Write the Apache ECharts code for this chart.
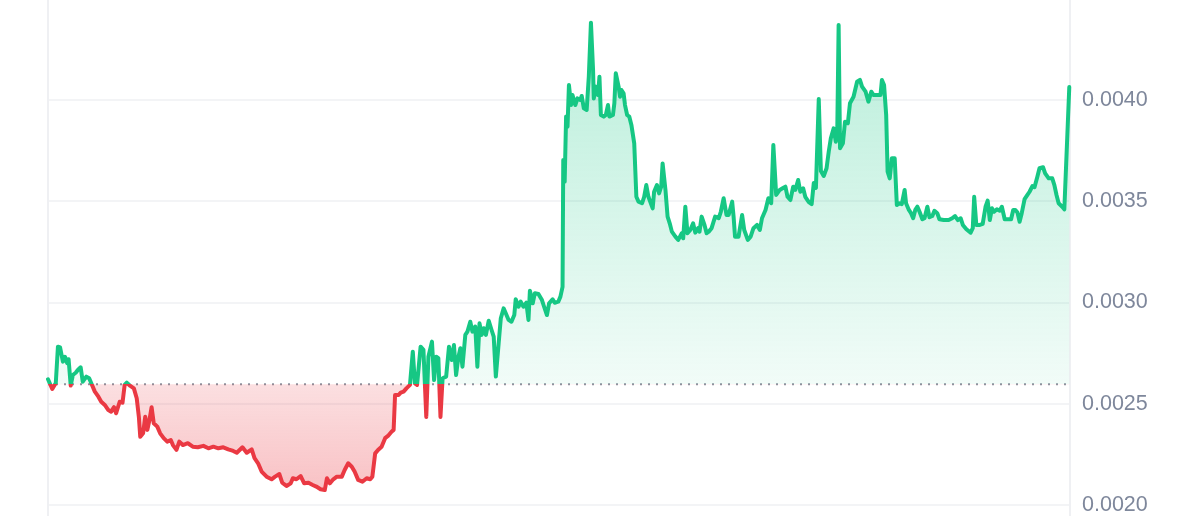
<!DOCTYPE html>
<html>
<head>
<meta charset="utf-8">
<title>Price chart</title>
<script src="https://cdn.jsdelivr.net/npm/echarts@6.0.0/dist/echarts.min.js"></script>
<style>
    html, body { margin: 0; padding: 0; background: #fff; }
    #chart { width: 1200px; height: 516px; }
</style>
</head>
<body>
<div id="chart"></div>
<script>
// minutes since the start of the 24h window
var minutes = [
    0, 6, 11, 14, 17, 21, 24, 27, 29, 32,
    35, 39, 42, 46, 49, 54, 58, 61, 66, 71,
    75, 80, 85, 89, 93, 96, 101, 105, 108, 111,
    116, 121, 125, 128, 130, 134, 137, 140, 143, 146,
    149, 154, 158, 163, 168, 173, 176, 181, 185, 190,
    197, 204, 211, 219, 226, 233, 240, 247, 254, 261,
    266, 274, 280, 287, 291, 296, 301, 308, 315, 320,
    326, 330, 336, 342, 345, 350, 356, 361, 367, 373,
    378, 384, 390, 393, 397, 402, 407, 414, 418, 423,
    428, 432, 437, 443, 449, 454, 457, 461, 465, 470,
    475, 479, 484, 487, 489, 494, 497, 501, 505, 510,
    514, 517, 520, 525, 529, 533, 536, 541, 544, 547,
    550, 553, 556, 561, 565, 569, 572, 575, 578, 581,
    584, 588, 591, 595, 598, 602, 605, 608, 611, 614,
    617, 621, 625, 628, 631, 635, 638, 642, 645, 649,
    653, 657, 659, 663, 666, 670, 674, 677, 679, 683,
    686, 691, 696, 699, 703, 706, 711, 714, 719, 722,
    725, 726, 728, 730, 732, 734, 737, 739, 743, 746,
    750, 752, 755, 759, 762, 765, 768, 769, 772, 775,
    777, 779, 783, 786, 789, 791, 796, 798, 800, 804,
    806, 808, 811, 813, 816, 819, 822, 824, 826, 829,
    832, 837, 840, 843, 846, 848, 852, 854, 858, 861,
    864, 866, 870, 873, 876, 879, 884, 888, 893, 895,
    898, 901, 905, 909, 912, 916, 918, 921, 925, 928,
    931, 935, 940, 945, 948, 952, 956, 959, 964, 966,
    968, 973, 978, 981, 986, 990, 994, 999, 1003, 1006,
    1011, 1015, 1019, 1022, 1026, 1031, 1035, 1039, 1042, 1046,
    1050, 1053, 1057, 1060, 1064, 1067, 1072, 1076, 1079, 1082,
    1086, 1089, 1093, 1097, 1100, 1103, 1107, 1110, 1112, 1114,
    1116, 1120, 1123, 1127, 1130, 1135, 1140, 1144, 1147, 1152,
    1156, 1160, 1163, 1168, 1173, 1175, 1178, 1181, 1183, 1186,
    1189, 1193, 1196, 1200, 1203, 1207, 1209, 1213, 1216, 1219,
    1222, 1225, 1228, 1232, 1235, 1239, 1242, 1246, 1249, 1253,
    1256, 1262, 1269, 1274, 1278, 1282, 1286, 1289, 1294, 1300,
    1303, 1305, 1308, 1313, 1317, 1321, 1324, 1327, 1330, 1333,
    1337, 1341, 1344, 1348, 1352, 1357, 1360, 1363, 1366, 1369,
    1372, 1376, 1380, 1383, 1387, 1390, 1394, 1397, 1402, 1405,
    1410, 1415, 1418, 1421, 1424, 1429, 1432, 1439
];

var prices = [
    0.002621, 0.002573, 0.002603, 0.002782, 0.002778, 0.002708, 0.002732, 0.002700, 0.002720, 0.002590,
    0.002642, 0.002653, 0.002667, 0.002680, 0.002609, 0.002634, 0.002626, 0.002601, 0.002560, 0.002535,
    0.002510, 0.002494, 0.002469, 0.002461, 0.002483, 0.002453, 0.002510, 0.002505, 0.002593, 0.002604,
    0.002588, 0.002576, 0.002527, 0.002436, 0.002337, 0.002354, 0.002436, 0.002371, 0.002420, 0.002483,
    0.002404, 0.002387, 0.002354, 0.002330, 0.002313, 0.002321, 0.002296, 0.002272, 0.002313, 0.002296,
    0.002305, 0.002288, 0.002285, 0.002292, 0.002280, 0.002288, 0.002280, 0.002285, 0.002275, 0.002267,
    0.002258, 0.002285, 0.002258, 0.002275, 0.002231, 0.002206, 0.002165, 0.002140, 0.002127, 0.002140,
    0.002153, 0.002110, 0.002094, 0.002107, 0.002132, 0.002127, 0.002143, 0.002107, 0.002110, 0.002099,
    0.002091, 0.002078, 0.002074, 0.002132, 0.002107, 0.002127, 0.002140, 0.002140, 0.002173, 0.002206,
    0.002189, 0.002165, 0.002124, 0.002115, 0.002132, 0.002127, 0.002140, 0.002255, 0.002272, 0.002288,
    0.002330, 0.002341, 0.002362, 0.002371, 0.002543, 0.002543, 0.002555, 0.002560, 0.002576, 0.002593,
    0.002757, 0.002601, 0.002593, 0.002782, 0.002766, 0.002435, 0.002732, 0.002807, 0.002617, 0.002732,
    0.002725, 0.002435, 0.002626, 0.002634, 0.002782, 0.002716, 0.002790, 0.002642, 0.002725, 0.002774,
    0.002683, 0.002840, 0.002856, 0.002905, 0.002856, 0.002881, 0.002683, 0.002897, 0.002840, 0.002873,
    0.002840, 0.002910, 0.002864, 0.002831, 0.002634, 0.002799, 0.002922, 0.002971, 0.002947, 0.002914,
    0.002905, 0.002938, 0.003016, 0.002979, 0.003004, 0.002979, 0.002999, 0.002914, 0.003058, 0.002996,
    0.003046, 0.003042, 0.003012, 0.002979, 0.002938, 0.002996, 0.003016, 0.002999, 0.003004, 0.003029,
    0.003077, 0.003704, 0.003597, 0.003918, 0.003868, 0.004074, 0.003975, 0.004025, 0.003975, 0.004008,
    0.004000, 0.004020, 0.003959, 0.003951, 0.004115, 0.004382, 0.004148, 0.004008, 0.004066, 0.004025,
    0.004115, 0.003926, 0.003918, 0.003926, 0.003975, 0.003918, 0.003926, 0.003984, 0.004132, 0.004066,
    0.004016, 0.004049, 0.004033, 0.003975, 0.003926, 0.003918, 0.003877, 0.003868, 0.003786, 0.003522,
    0.003498, 0.003490, 0.003522, 0.003580, 0.003522, 0.003531, 0.003465, 0.003547, 0.003580, 0.003539,
    0.003572, 0.003687, 0.003556, 0.003424, 0.003391, 0.003350, 0.003325, 0.003309, 0.003342, 0.003317,
    0.003473, 0.003342, 0.003358, 0.003391, 0.003345, 0.003367, 0.003350, 0.003424, 0.003383, 0.003342,
    0.003350, 0.003367, 0.003424, 0.003416, 0.003448, 0.003515, 0.003432, 0.003432, 0.003498, 0.003424,
    0.003325, 0.003325, 0.003432, 0.003358, 0.003309, 0.003325, 0.003367, 0.003383, 0.003358, 0.003416,
    0.003457, 0.003515, 0.003490, 0.003778, 0.003531, 0.003556, 0.003564, 0.003572, 0.003522, 0.003506,
    0.003572, 0.003556, 0.003605, 0.003547, 0.003564, 0.003522, 0.003496, 0.003486, 0.003590, 0.003566,
    0.004005, 0.003649, 0.003625, 0.003663, 0.003743, 0.003811, 0.003860, 0.003794, 0.003827, 0.004370,
    0.003762, 0.003786, 0.003893, 0.003885, 0.003984, 0.004016, 0.004090, 0.004099, 0.004066, 0.004041,
    0.003992, 0.004041, 0.004025, 0.004025, 0.004025, 0.004099, 0.004074, 0.003926, 0.003646, 0.003613,
    0.003712, 0.003712, 0.003482, 0.003490, 0.003486, 0.003556, 0.003490, 0.003457, 0.003441, 0.003416,
    0.003457, 0.003473, 0.003448, 0.003411, 0.003416, 0.003473, 0.003421, 0.003427, 0.003453, 0.003441,
    0.003411, 0.003407, 0.003407, 0.003416, 0.003427, 0.003407, 0.003416, 0.003383, 0.003362, 0.003345,
    0.003367, 0.003522, 0.003383, 0.003383, 0.003388, 0.003473, 0.003503, 0.003407, 0.003465, 0.003448,
    0.003460, 0.003453, 0.003473, 0.003411, 0.003411, 0.003411, 0.003457, 0.003457, 0.003444, 0.003399,
    0.003441, 0.003510, 0.003531, 0.003547, 0.003575, 0.003569, 0.003621, 0.003663, 0.003668, 0.003638,
    0.003613, 0.003613, 0.003580, 0.003531, 0.003490, 0.003473, 0.003460, 0.004064
];

// price at the start of the window, drawn as the dotted reference line
var openPrice = 0.002596;

// y axis ticks
var yMin = 0.0015;
var yMax = 0.0045;
var yStep = 0.0005;

var upColor = '#16c784';
var downColor = '#ea3943';

var myChart = echarts.init(document.getElementById('chart'));

var seriesData = [];
for (var i = 0; i < Math.min(minutes.length, prices.length); i++) {
    seriesData.push([minutes[i], prices[i]]);
}

var hi = Math.max.apply(null, prices);
var lo = Math.min.apply(null, prices);
var cut = (hi - openPrice) / (hi - lo);

var option = {
    animation: false,
    grid: {
        left: 48,
        right: 130,
        top: -1.25,
        height: 607.5,
        outerBoundsMode: 'none',
        containLabel: false
    },
    xAxis: {
        type: 'value',
        min: 0,
        max: 1440,
        interval: 1440,
        axisLine: { show: false },
        axisTick: { show: false },
        axisLabel: { show: false },
        splitLine: { show: true, lineStyle: { color: '#eff0f3', width: 2 } }
    },
    yAxis: {
        type: 'value',
        position: 'right',
        min: yMin,
        max: yMax,
        interval: yStep,
        axisLine: { show: false },
        axisTick: { show: false },
        axisLabel: {
            showMaxLabel: false,
            showMinLabel: false,
            margin: 12,
            color: '#7e879b',
            fontSize: 21.5,
            fontFamily: '"Liberation Sans", Arial, sans-serif',
            formatter: function (v) { return v.toFixed(4); }
        },
        splitLine: { lineStyle: { color: '#eff0f3', width: 1.5 } }
    },
    visualMap: {
        show: false,
        type: 'piecewise',
        dimension: 1,
        seriesIndex: 0,
        pieces: [
            { gte: 0, lte: openPrice, color: downColor },
            { gt: openPrice, lte: 1, color: upColor }
        ]
    },
    series: [
        {
            type: 'line',
            data: seriesData,
            showSymbol: false,
            z: 3,
            lineStyle: { width: 4, join: 'round', cap: 'round' },
            areaStyle: {
                origin: openPrice,
                opacity: 1,
                color: new echarts.graphic.LinearGradient(0, 0, 0, 1, [
                    { offset: 0, color: 'rgba(22,199,132,0.30)' },
                    { offset: cut, color: 'rgba(22,199,132,0.06)' },
                    { offset: cut, color: 'rgba(234,57,67,0.16)' },
                    { offset: 1, color: 'rgba(234,57,67,0.31)' }
                ])
            }
        },
        {
            // dotted opening-price reference across the whole window
            type: 'line',
            data: [[0, openPrice], [1440, openPrice]],
            showSymbol: false,
            silent: true,
            z: 2,
            itemStyle: { color: '#8d94a0' },
            lineStyle: { color: '#8d94a0', width: 2, type: [2, 6] }
        }
    ]
};

myChart.setOption(option);
window.addEventListener('resize', function () {
    myChart.resize();
});
</script>
</body>
</html>
